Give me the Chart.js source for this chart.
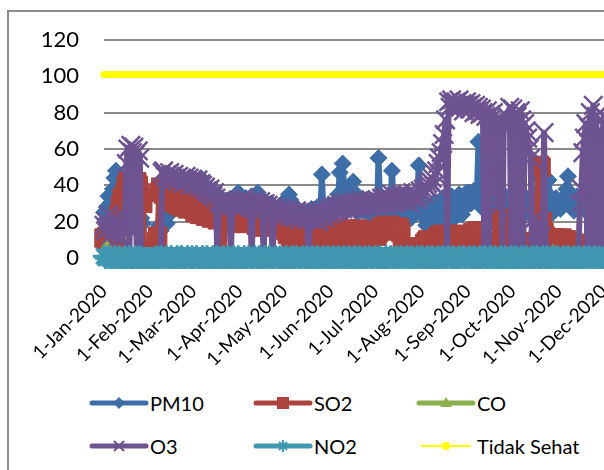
<!DOCTYPE html>
<html>
<head>
<meta charset="utf-8">
<script src="https://cdn.jsdelivr.net/npm/chart.js@4/dist/chart.umd.min.js"></script>
<style>
  html, body { margin: 0; padding: 0; background: #fff; }
  body { width: 604px; height: 470px; overflow: hidden; position: relative; font-family: Lato, "Open Sans", sans-serif; }
  #frame { position: absolute; left: 7px; top: 10px; width: 720px; height: 600px; border: 2px solid #8c8c8c; box-sizing: border-box; }
  #c { position: absolute; left: 0; top: 0; }
  .lg-icon { position: absolute; display: block; }
  .lg-text { position: absolute; font-size: 20px; line-height: 24px; color: #000; white-space: nowrap; }
</style>
</head>
<body>
<div id="frame"></div>
<canvas id="c" width="664" height="380"></canvas>
<div id="legend"></div>
<script>
// ---- categories: daily readings through 2020 ----
const MONTHS = ['Jan', 'Feb', 'Mar', 'Apr', 'May', 'Jun', 'Jul', 'Aug', 'Sep', 'Oct', 'Nov', 'Dec'];
const DAYS_IN_MONTH = [31, 29, 31, 30, 31, 30, 31, 31, 30, 31, 30, 31];
const YEAR = 2020;

// ---- daily index values, one array per month ----
const pm10 = [
  [25, 21, 28, 34, 30, 35, 38, 44, 48, 40, 31, 24, 21, 19, 22, 18, 16, 20, 23, 19, 17, 21, 18, 15, 20, 22, 19, 0, 0, 0, 0],
  [0, 0, 0, 0, 12, 16, 18, 15, 17, 20, 22, 19, 24, 27, 25, 29, 31, 28, 33, 30, 34, 31, 29, 32, 35, 33, 30, 36, 38],
  [36, 38, 35, 40, 42, 44, 41, 37, 39, 36, 34, 38, 35, 33, 36, 32, 30, 34, 31, 29, 27, 30, 28, 26, 29, 31, 28, 30, 33, 35, 36],
  [35, 31, 28, 30, 33, 29, 27, 31, 34, 30, 28, 32, 36, 33, 29, 26, 28, 31, 27, 25, 29, 30, 26, 24, 22, 25, 28, 23, 21, 26],
  [27, 30, 33, 35, 32, 28, 24, 22, 25, 27, 23, 21, 24, 26, 22, 20, 23, 25, 27, 24, 22, 26, 28, 25, 23, 46, 27, 24, 26, 29, 25],
  [28, 25, 30, 27, 31, 35, 47, 33, 52, 38, 29, 26, 30, 28, 33, 42, 36, 27, 25, 29, 31, 28, 26, 30, 32, 27, 24, 29, 31, 28],
  [30, 27, 55, 33, 29, 26, 31, 28, 25, 30, 27, 48, 34, 29, 26, 24, 28, 31, 27, 23, 25, 29, 32, 26, 22, 24, 28, 30, 33, 51, 29],
  [30, 26, 22, 18, 24, 28, 20, 16, 25, 31, 27, 19, 23, 29, 33, 26, 21, 17, 24, 30, 34, 28, 22, 26, 32, 35, 29, 24, 27, 33, 36],
  [33, 36, 30, 34, 37, 32, 35, 64, 31, 28, 34, 36, 30, 33, 29, 35, 37, 31, 27, 33, 30, 35, 32, 28, 31, 34, 29, 26, 32, 30],
  [31, 28, 33, 35, 30, 26, 29, 32, 34, 27, 25, 30, 33, 29, 31, 35, 28, 44, 32, 27, 30, 26, 29, 31, 43, 34, 28, 25, 30, 33, 29],
  [30, 27, 32, 29, 34, 38, 45, 33, 28, 31, 26, 30, 34, 29, 27, 32, 35, 30, 28, 25, 31, 33, 29, 27, 30, 34, 31, 28, 33, 36],
  [34, 31, 28, 33, 30, 27, 32, 35, 29, 26, 31, 33, 28, 30, 34, 29, 27, 31, 33, 30, 28, 32, 35, 31, 27, 29, 33, 30, 28, 31, 34]
];
const so2 = [
  [11, 10, 12, 11, 9, 12, 13, 11, 14, 18, 24, 29, 33, 30, 36, 40, 42, 38, 41, 43, 39, 37, 42, 40, 36, 33, 30, 2, 0, 0, 0],
  [0, 1, 0, 2, 9, 12, 36, 39, 37, 35, 38, 34, 36, 33, 31, 35, 32, 30, 34, 29, 31, 33, 28, 30, 32, 27, 29, 31, 28],
  [27, 25, 28, 26, 24, 27, 29, 25, 23, 26, 28, 24, 22, 25, 27, 23, 21, 24, 26, 22, 0, 20, 23, 25, 21, 19, 22, 24, 20, 23, 25],
  [24, 22, 25, 21, 19, 23, 26, 22, 20, 24, 21, 18, 22, 25, 23, 20, 17, 21, 24, 19, 22, 20, 18, 21, 23, 19, 17, 20, 22, 18],
  [17, 15, 13, 14, 12, 10, 13, 15, 11, 9, 12, 14, 10, 13, 11, 9, 12, 14, 13, 10, 12, 15, 11, 9, 13, 12, 10, 14, 12, 11, 13],
  [12, 14, 16, 13, 15, 17, 14, 12, 15, 13, 11, 14, 16, 13, 12, 15, 14, 11, 13, 16, 14, 12, 10, 13, 15, 12, 14, 11, 13, 12],
  [13, 12, 14, 15, 17, 16, 18, 17, 15, 16, 18, 17, 16, 17, 15, 16, 17, 14, 6, 5, 4, 6, 5, 3, 5, 4, 6, 5, 4, 5, 6],
  [5, 4, 8, 9, 10, 8, 9, 10, 9, 8, 10, 12, 11, 13, 12, 11, 12, 13, 11, 12, 13, 12, 11, 12, 13, 12, 6, 5, 7, 6, 5],
  [6, 5, 7, 14, 13, 14, 15, 14, 13, 14, 8, 7, 9, 8, 7, 8, 9, 8, 7, 22, 21, 22, 20, 8, 10, 12, 9, 7, 8, 7],
  [7, 8, 6, 7, 8, 7, 6, 8, 7, 9, 8, 7, 6, 8, 9, 8, 9, 50, 51, 50, 20, 14, 12, 10, 11, 9, 10, 11, 10, 9, 11],
  [10, 9, 11, 10, 9, 10, 8, 9, 7, 6, 8, 7, 6, 7, 8, 6, 7, 5, 6, 7, 8, 6, 5, 7, 6, 8, 7, 6, 5, 7],
  [6, 7, 8, 6, 5, 7, 8, 6, 7, 9, 8, 6, 7, 5, 6, 8, 7, 6, 5, 7, 8, 6, 7, 9, 6, 5, 7, 8, 6, 7, 8]
];
const co = [
  [1, 5, 6, 4, 1, 0, 1, 1, 0, 1, 1, 0, 1, 1, 2, 3, 1, 0, 1, 1, 0, 1, 1, 0, 1, 1, 0, 0, 0, 0, 0],
  [0, 0, 0, 0, 1, 1, 0, 1, 1, 0, 1, 1, 1, 0, 1, 1, 0, 1, 1, 1, 2, 1, 0, 1, 1, 0, 1, 1, 0],
  [1, 0, 1, 1, 0, 1, 1, 0, 1, 1, 1, 0, 1, 0, 1, 1, 0, 1, 1, 0, 1, 1, 0, 1, 0, 1, 1, 0, 1, 1, 0],
  [1, 1, 0, 1, 0, 1, 1, 0, 1, 1, 0, 1, 1, 0, 1, 0, 1, 1, 0, 1, 1, 0, 1, 1, 0, 1, 0, 1, 1, 0],
  [1, 0, 1, 1, 0, 1, 0, 1, 1, 0, 1, 1, 0, 1, 1, 0, 1, 0, 1, 1, 0, 1, 1, 0, 1, 0, 1, 1, 0, 1, 1],
  [0, 1, 1, 0, 1, 1, 0, 1, 0, 1, 1, 0, 1, 1, 0, 1, 0, 1, 1, 0, 1, 1, 0, 1, 0, 1, 1, 0, 1, 1],
  [0, 1, 0, 1, 1, 0, 1, 1, 0, 1, 0, 1, 1, 0, 1, 1, 0, 1, 0, 1, 1, 0, 1, 1, 0, 1, 0, 1, 1, 0, 1],
  [1, 0, 1, 1, 0, 1, 0, 1, 1, 0, 1, 1, 0, 1, 0, 1, 1, 0, 1, 1, 0, 1, 0, 1, 1, 0, 1, 1, 0, 1, 0],
  [1, 1, 0, 1, 1, 0, 1, 0, 1, 1, 0, 1, 1, 0, 1, 0, 1, 1, 0, 1, 1, 0, 1, 0, 1, 1, 0, 1, 1, 0],
  [1, 0, 1, 1, 0, 1, 1, 0, 1, 0, 1, 1, 0, 1, 1, 0, 1, 0, 1, 1, 0, 1, 1, 0, 1, 0, 1, 3, 1, 2, 1],
  [0, 1, 1, 0, 1, 0, 1, 1, 0, 1, 1, 0, 1, 0, 1, 1, 0, 1, 1, 0, 1, 0, 1, 1, 0, 1, 1, 0, 1, 0],
  [1, 1, 0, 1, 0, 1, 1, 0, 1, 1, 0, 1, 0, 1, 1, 0, 1, 1, 0, 1, 0, 1, 1, 0, 1, 1, 0, 1, 0, 1, 1]
];
const o3 = [
  [18, 15, 20, 24, 17, 13, 16, 21, 19, 14, 12, 10, 15, 18, 22, 52, 60, 0, 62, 58, 61, 57, 0, 59, 55, 0, 0, 0, 0, 0, 0],
  [0, 0, 0, 0, 0, 0, 0, 0, 47, 48, 45, 46, 44, 47, 45, 43, 46, 44, 42, 45, 43, 44, 41, 43, 45, 42, 44, 40, 43],
  [42, 40, 41, 43, 39, 41, 40, 38, 39, 37, 36, 38, 35, 34, 36, 33, 0, 31, 30, 32, 29, 31, 28, 30, 32, 0, 29, 31, 28, 30, 27],
  [30, 32, 29, 31, 33, 30, 28, 31, 0, 29, 32, 30, 27, 29, 31, 28, 0, 30, 27, 29, 26, 28, 0, 27, 25, 28, 26, 24, 27, 25],
  [25, 27, 24, 26, 23, 25, 22, 24, 26, 23, 21, 24, 22, 25, 23, 21, 0, 22, 24, 21, 23, 25, 22, 20, 23, 26, 24, 22, 25, 27, 24],
  [26, 28, 25, 27, 29, 26, 28, 30, 27, 29, 31, 28, 26, 29, 30, 27, 31, 29, 28, 30, 32, 29, 27, 30, 31, 28, 30, 32, 29, 31],
  [30, 32, 29, 31, 33, 30, 34, 32, 29, 31, 33, 35, 32, 30, 34, 31, 33, 36, 32, 34, 31, 35, 33, 30, 34, 36, 33, 35, 32, 34, 37],
  [36, 38, 35, 39, 41, 38, 42, 44, 40, 46, 48, 52, 55, 58, 63, 68, 76, 0, 86, 83, 87, 85, 82, 86, 84, 87, 83, 85, 81, 84, 86],
  [84, 82, 85, 83, 80, 84, 81, 83, 79, 82, 80, 0, 78, 81, 0, 79, 77, 80, 48, 37, 28, 76, 74, 0, 75, 72, 78, 74, 83, 0],
  [82, 0, 80, 78, 0, 81, 76, 0, 74, 70, 66, 60, 55, 0, 0, 22, 15, 10, 0, 12, 0, 69, 0, 0, 0, 0, 0, 0, 0, 0, 0],
  [0, 0, 0, 0, 0, 0, 0, 0, 0, 0, 0, 0, 0, 0, 30, 38, 58, 66, 74, 0, 72, 80, 0, 84, 0, 78, 0, 70, 0, 65],
  [78, 74, 0, 70, 76, 72, 0, 68, 73, 75, 71, 0, 66, 70, 74, 69, 0, 72, 67, 71, 0, 65, 69, 73, 0, 68, 70, 64, 0, 67, 71]
];
const no2 = [
  [1, 0, 0, 1, 0, 0, 0, 1, 0, 0, 1, 0, 0, 0, 1, 0, 0, 1, 0, 0, 0, 1, 0, 0, 1, 0, 0, 0, 0, 0, 0],
  [0, 0, 0, 0, 1, 0, 0, 1, 0, 0, 0, 1, 0, 0, 1, 0, 0, 0, 1, 0, 0, 1, 0, 0, 0, 1, 0, 0, 1],
  [0, 0, 1, 0, 0, 0, 1, 0, 0, 1, 0, 0, 0, 1, 0, 0, 1, 0, 0, 0, 1, 0, 0, 1, 0, 0, 0, 1, 0, 0, 1],
  [0, 0, 0, 1, 0, 0, 1, 0, 0, 0, 1, 0, 0, 1, 0, 0, 0, 1, 0, 0, 1, 0, 0, 0, 1, 0, 0, 1, 0, 0],
  [0, 1, 0, 0, 0, 1, 0, 0, 1, 0, 0, 0, 1, 0, 0, 1, 0, 0, 0, 1, 0, 0, 1, 0, 0, 0, 1, 0, 0, 1, 0],
  [0, 0, 1, 0, 0, 1, 0, 0, 0, 1, 0, 0, 1, 0, 0, 0, 1, 0, 0, 1, 0, 0, 0, 1, 0, 0, 1, 0, 0, 0],
  [1, 0, 0, 1, 0, 0, 0, 1, 0, 0, 1, 0, 0, 0, 1, 0, 0, 1, 0, 0, 0, 1, 0, 0, 1, 0, 0, 0, 1, 0, 0],
  [1, 0, 0, 0, 1, 0, 0, 1, 0, 0, 0, 1, 0, 0, 1, 0, 0, 0, 1, 0, 0, 1, 0, 0, 0, 1, 0, 0, 1, 0, 0],
  [0, 1, 0, 0, 1, 0, 0, 0, 1, 0, 0, 1, 0, 0, 0, 1, 0, 0, 1, 0, 0, 0, 1, 0, 0, 1, 0, 0, 0, 1],
  [0, 0, 1, 0, 0, 0, 1, 0, 0, 1, 0, 0, 0, 1, 0, 0, 1, 0, 0, 0, 1, 0, 0, 1, 0, 0, 0, 1, 0, 0, 1],
  [0, 0, 0, 1, 0, 0, 1, 0, 0, 0, 1, 0, 0, 1, 0, 0, 0, 1, 0, 0, 1, 0, 0, 0, 1, 0, 0, 1, 0, 0],
  [0, 1, 0, 0, 0, 1, 0, 0, 1, 0, 0, 0, 1, 0, 0, 1, 0, 0, 0, 1, 0, 0, 1, 0, 0, 0, 1, 0, 0, 1, 0]
];
// ISPU threshold for the "Tidak Sehat" (unhealthy) band
const TIDAK_SEHAT = 101;

// ---- tick labels: one per calendar day, shown on the 1st of each month ----
const dayLabels = [];
MONTHS.forEach((m, i) => {
  for (let d = 1; d <= DAYS_IN_MONTH[i]; d++) dayLabels.push(`${d}-${m}-${YEAR}`);
});

const COLORS = {
  pm10: '#3E6EA7', so2: '#AB433F', co: '#8DB04E', o3: '#6E5391', no2: '#3F97B0', tidak: '#FFFF00'
};

function series(label, values, color, style, radius, pointBorder, order) {
  return {
    label,
    data: values.flat(),
    borderColor: color,
    backgroundColor: color,
    pointBackgroundColor: color,
    pointBorderColor: color,
    borderWidth: 6,
    borderJoinStyle: 'round',
    borderCapStyle: 'round',
    pointStyle: style,
    pointRadius: radius,
    pointBorderWidth: pointBorder,
    tension: 0,
    clip: false,
    order
  };
}

const datasets = [
  series('PM10', pm10, COLORS.pm10, 'rectRot', 8.5, 1, 6),
  series('SO2', so2, COLORS.so2, 'rect', 13, 1, 5),
  series('CO', co, COLORS.co, 'triangle', 8, 1, 4),
  series('O3', o3, COLORS.o3, 'crossRot', 13, 2.5, 3),
  series('NO2', no2, COLORS.no2, 'star', 11, 3, 2),
  Object.assign(series('Tidak Sehat', [dayLabels.map(() => TIDAK_SEHAT)], COLORS.tidak, 'circle', 3.6, 0, 1),
    { borderWidth: 1.5 })
];

const chart = new Chart(document.getElementById('c'), {
  type: 'line',
  data: { labels: dayLabels, datasets },
  options: {
    responsive: false,
    animation: false,
    events: [],
    layout: { padding: { top: 40, right: 13, bottom: 0, left: 0 } },
    plugins: { legend: { display: false }, tooltip: { enabled: false } },
    scales: {
      x: {
        type: 'category',
        offset: false,
        grid: { display: false, drawTicks: false },
        border: { display: false },
        afterBuildTicks: s => { s.ticks = s.ticks.filter(t => dayLabels[t.value].startsWith('1-')); },
        afterFit: s => { s.height = 122; },
        ticks: {
          autoSkip: false,
          minRotation: 45,
          maxRotation: 45,
          padding: 22,
          color: '#000',
          font: { family: 'Lato', size: 19 },
          callback: function (v) { return this.getLabelForValue(v); }
        }
      },
      y: {
        min: 0,
        max: 120,
        afterFit: s => { s.width = 104; },
        grid: { color: '#8a8a8a', lineWidth: 2, drawTicks: false },
        border: { display: false },
        ticks: { stepSize: 20, padding: 25, color: '#000', font: { family: 'Lato', size: 22 } }
      }
    }
  }
});

// ---- legend: two rows of three entries ----
const LEGEND_SLOTS = [
  { x: 89, y: 403 }, { x: 253, y: 403 }, { x: 416, y: 403 },
  { x: 89, y: 446 }, { x: 253, y: 446 }, { x: 416, y: 446 }
];

function markerSvg(style, c) {
  const cx = 30, cy = 12;
  switch (style) {
    case 'rectRot': return `<polygon points="${cx - 6},${cy} ${cx},${cy - 6} ${cx + 6},${cy} ${cx},${cy + 6}" fill="${c}"/>`;
    case 'rect': return `<rect x="${cx - 6}" y="${cy - 6}" width="12" height="12" fill="${c}"/>`;
    case 'triangle': return `<polygon points="${cx},${cy - 6} ${cx + 6},${cy + 4} ${cx - 6},${cy + 4}" fill="${c}"/>`;
    case 'crossRot': return `<path d="M${cx - 5} ${cy - 5}L${cx + 5} ${cy + 5}M${cx + 5} ${cy - 5}L${cx - 5} ${cy + 5}" stroke="${c}" stroke-width="2"/>`;
    case 'star': return `<path d="M${cx} ${cy - 6}V${cy + 6}M${cx - 4} ${cy - 4}L${cx + 4} ${cy + 4}M${cx + 4} ${cy - 4}L${cx - 4} ${cy + 4}" stroke="${c}" stroke-width="2"/>`;
    default: return `<circle cx="${cx}" cy="${cy}" r="4" fill="${c}"/>`;
  }
}

const legendEl = document.getElementById('legend');
chart.data.datasets.forEach((ds, i) => {
  const slot = LEGEND_SLOTS[i];
  const thin = ds.borderWidth < 3;
  const lineW = thin ? 2 : 5;
  const x1 = thin ? 6 : 3, x2 = thin ? 54 : 57;
  const svg = document.createElementNS('http://www.w3.org/2000/svg', 'svg');
  svg.setAttribute('width', '60');
  svg.setAttribute('height', '24');
  svg.setAttribute('class', 'lg-icon');
  svg.style.left = slot.x + 'px';
  svg.style.top = (slot.y - 12) + 'px';
  svg.innerHTML = `<line x1="${x1}" y1="12" x2="${x2}" y2="12" stroke="${ds.borderColor}" stroke-width="${lineW}" stroke-linecap="round"/>` +
    markerSvg(ds.pointStyle, ds.borderColor);
  legendEl.appendChild(svg);
  const t = document.createElement('div');
  t.className = 'lg-text';
  t.textContent = ds.label;
  t.style.left = (slot.x + 61) + 'px';
  t.style.top = (slot.y - 12) + 'px';
  legendEl.appendChild(t);
});
</script>
</body>
</html>
